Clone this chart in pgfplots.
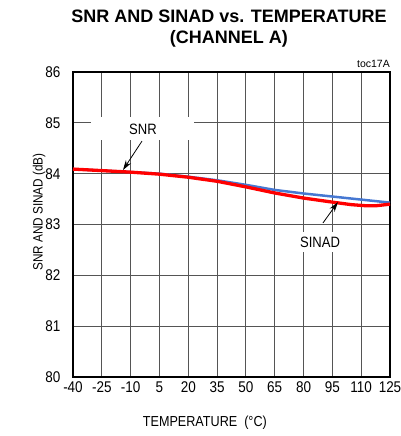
\documentclass[border=0pt]{standalone}
\usepackage{pgfplots}
\pgfplotsset{compat=1.18}
\usepackage{fontspec}
\setmainfont{Liberation Sans}
\newfontfamily\narrowfont[FakeStretch=0.87]{Liberation Sans}
\usetikzlibrary{arrows.meta}
\definecolor{snrblue}{RGB}{70,120,210}
\definecolor{gridgray}{RGB}{85,85,85}
\begin{document}
\begin{tikzpicture}
\useasboundingbox (-73pt,-59pt) rectangle (328pt,377pt);
\begin{axis}[
  scale only axis, width=317pt, height=305pt,
  xmin=-40, xmax=125, ymin=80, ymax=86,
  xtick={-40,-25,-10,5,20,35,50,65,80,95,110,125},
  xticklabels={-40,-25,-10,5,20,35,50,65,80,95,110,125},
  ytick={80,81,82,83,84,85,86},
  /pgf/number format/assume math mode=true,
  major tick length=0pt,
  grid=major,
  major grid style={gridgray, line width=1pt},
  axis line style={black, line width=2.7pt},
  ticklabel style={font=\narrowfont\fontsize{15.5}{17}\selectfont},
  yticklabel style={xshift=-9pt},
  xticklabel style={yshift=-1pt},
  clip=false,
]
\addplot[snrblue, line width=2.5pt, line join=round] table {
x y
-40 84.09
-25 84.06
-10 84.03
5 84.00
20 83.94
35 83.87
50 83.78
65 83.68
80 83.61
95 83.55
110 83.49
125 83.43
};
\addplot[red, line width=3.3pt, line join=round] table {
x y
-40 84.09
-25 84.06
-10 84.03
5 83.99
20 83.93
35 83.85
50 83.74
65 83.62
80 83.52
95 83.44
105 83.39
112 83.37
118 83.37
125 83.40
};
% annotation boxes
\node[fill=white, minimum width=103pt, minimum height=23pt, inner sep=0pt,
      font=\narrowfont\fontsize{15}{17}\selectfont] at (axis cs:-3.6,84.88) {SNR};
\draw[line width=0.8pt, -{Stealth[length=10pt,width=6pt]}] (axis cs:-4.1,84.64) -- (axis cs:-14.0,84.07);
\node[fill=white, minimum width=60pt, minimum height=20pt, inner sep=0pt,
      font=\narrowfont\fontsize{15}{17}\selectfont] at (axis cs:88.6,82.65) {SINAD};
\draw[line width=0.8pt, -{Stealth[length=10pt,width=6pt]}] (axis cs:90.1,83.03) -- (axis cs:97.9,83.44);
% labels
\node[anchor=south east, inner sep=0pt, font=\fontsize{10.5}{12}\selectfont] at (rel axis cs:1,1) [yshift=4pt] {toc17A};
\node[align=center, font=\bfseries\fontsize{18}{21}\selectfont] at (rel axis cs:0.492,1.143) {SNR AND SINAD vs. TEMPERATURE\\(CHANNEL A)};
\node[font=\narrowfont\fontsize{14.5}{16}\selectfont] at (rel axis cs:0.416,-0.151) {TEMPERATURE\ \ (°C)};
\node[rotate=90, font=\narrowfont\fontsize{13.5}{16}\selectfont] at (rel axis cs:-0.107,0.541) {SNR AND SINAD (dB)};
\end{axis}
\end{tikzpicture}
\end{document}
